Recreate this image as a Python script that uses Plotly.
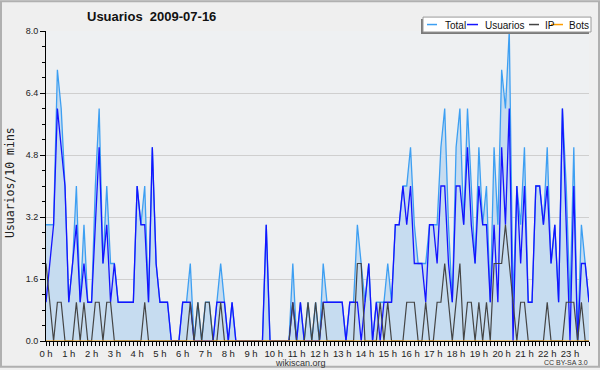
import plotly.graph_objects as go

# ---------------- data (10-minute slots, 0 h .. 23:50) ----------------
slots = list(range(144))

total = [3, 3, 3, 7, 6, 4, 1, 2, 4, 1, 3, 1, 1, 4, 6, 2, 4, 2, 2, 1,
         1, 1, 1, 1, 4, 3, 4, 1, 5, 2, 1, 1, 1, 0, 0, 0, 1, 1, 2, 0,
         1, 0, 1, 1, 0, 1, 2, 1, 0, 1, 0, 0, 0, 0, 0, 0, 0, 0, 3, 0,
         0, 0, 0, 0, 0, 2, 0, 1, 0, 1, 0, 1, 0, 2, 1, 1, 1, 1, 1, 0,
         1, 1, 3, 2, 1, 2, 0, 1, 1, 1, 2, 1, 3, 3, 4, 4, 5, 3, 2, 2,
         2, 3, 3, 3, 5, 6, 3, 1, 5, 6, 3, 6, 4, 2, 5, 3, 4, 1, 5, 3,
         7, 6, 8, 1, 4, 3, 5, 1, 1, 4, 4, 3, 5, 2, 3, 1, 6, 4, 1, 5,
         0, 3, 2, 1]

usuarios = [1, 2, 3, 6, 5, 4, 1, 2, 3, 1, 2, 1, 1, 3, 5, 2, 3, 1, 2, 1,
            1, 1, 1, 1, 4, 3, 3, 1, 5, 2, 1, 1, 1, 0, 0, 0, 1, 1, 1, 0,
            0, 0, 0, 0, 0, 1, 1, 1, 0, 1, 0, 0, 0, 0, 0, 0, 0, 0, 3, 0,
            0, 0, 0, 0, 0, 1, 0, 1, 0, 0, 0, 0, 0, 1, 1, 1, 1, 1, 1, 0,
            1, 1, 1, 0, 1, 2, 0, 1, 0, 1, 1, 1, 3, 3, 4, 3, 4, 2, 2, 2,
            1, 3, 3, 2, 4, 4, 2, 1, 4, 4, 3, 5, 3, 2, 4, 3, 3, 1, 3, 1,
            5, 3, 6, 0, 4, 2, 4, 1, 1, 4, 4, 3, 4, 2, 3, 1, 6, 3, 0, 4,
            0, 2, 2, 1]

ip = [2, 1, 0, 1, 1, 0, 0, 0, 1, 0, 1, 0, 0, 1, 1, 0, 1, 1, 0, 0,
      0, 0, 0, 0, 0, 0, 1, 0, 0, 0, 0, 0, 0, 0, 0, 0, 0, 0, 1, 0,
      1, 0, 1, 1, 0, 0, 1, 0, 0, 0, 0, 0, 0, 0, 0, 0, 0, 0, 0, 0,
      0, 0, 0, 0, 0, 1, 0, 0, 0, 1, 0, 1, 0, 1, 0, 0, 0, 0, 0, 0,
      0, 0, 2, 2, 0, 0, 0, 0, 1, 0, 1, 0, 0, 0, 0, 1, 1, 1, 0, 0,
      1, 0, 0, 1, 1, 2, 1, 0, 1, 2, 0, 1, 1, 0, 1, 0, 1, 0, 2, 2,
      2, 3, 2, 1, 0, 1, 1, 0, 0, 0, 0, 0, 1, 0, 0, 0, 0, 1, 1, 1,
      0, 1, 0, 0]

bots = [0] * 144

hour_ticks = [0, 6, 12, 18, 24, 30, 36, 42, 48, 54, 60, 66, 72, 78, 84, 90,
              96, 102, 108, 114, 120, 126, 132, 138]
hour_labels = ["0 h", "1 h", "2 h", "3 h", "4 h", "5 h", "6 h", "7 h", "8 h",
               "9 h", "10 h", "11 h", "12 h", "13 h", "14 h", "15 h", "16 h",
               "17 h", "18 h", "19 h", "20 h", "21 h", "22 h", "23 h"]

series_names = ["Total", "Usuarios", "IP", "Bots"]
series_colors = ["#3d9ff2", "#1414ff", "#444444", "#ff9d00"]

# ---------------- layout helpers ----------------
W, H = 600, 370
ML, MR, MT, MB = 46, 11, 31, 27
PW, PH = W - ML - MR, H - MT - MB


def px(x):
    return (x - ML) / PW


def py(y):
    return (H - MB - y) / PH


fig = go.Figure()
fig.add_trace(go.Scatter(x=slots, y=total, mode="lines", name="Total",
                         line=dict(color=series_colors[0], width=1.3),
                         fill="tozeroy", fillcolor="#c6dcf0", showlegend=False))
fig.add_trace(go.Scatter(x=slots, y=usuarios, mode="lines", name="Usuarios",
                         line=dict(color=series_colors[1], width=1.3), showlegend=False))
fig.add_trace(go.Scatter(x=slots, y=ip, mode="lines", name="IP",
                         line=dict(color=series_colors[2], width=1.2), showlegend=False))
fig.add_trace(go.Scatter(x=slots, y=bots, mode="lines", name="Bots",
                         line=dict(color=series_colors[3], width=1.2), showlegend=False))

fig.update_layout(
    width=W, height=H,
    margin=dict(l=ML, r=MR, t=MT, b=MB, pad=0),
    paper_bgcolor="#efefef",
    plot_bgcolor="#eef0f2",
    showlegend=False,
    font=dict(family="Liberation Sans", size=10, color="#222"),
)

fig.update_xaxes(
    range=[0, 143], tickmode="array", tickvals=hour_ticks, ticktext=hour_labels,
    ticks="outside", ticklen=4, tickwidth=1, tickcolor="#000",
    showline=True, linecolor="#000", linewidth=1, showgrid=False, zeroline=False,
    tickfont=dict(family="Liberation Sans", size=9.5, color="#222"),
    minor=dict(tickmode="linear", tick0=0, dtick=1, ticks="outside", ticklen=4,
               tickcolor="#000", showgrid=False),
)
fig.update_yaxes(
    range=[0, 8], tickmode="linear", tick0=0, dtick=1.6, tickformat=".1f",
    ticks="outside", ticklen=5, tickwidth=1, tickcolor="#000",
    showline=True, linecolor="#000", linewidth=1,
    showgrid=True, gridcolor="#cfcfcf", gridwidth=1, zeroline=False,
    tickfont=dict(family="Liberation Sans", size=9, color="#222"),
    minor=dict(tickmode="linear", tick0=0, dtick=0.4, ticks="outside", ticklen=3,
               tickcolor="#000", showgrid=False),
)

shapes = []
# outer frame
shapes.append(dict(type="rect", xref="paper", yref="paper",
                   x0=px(1), x1=px(599), y0=py(1), y1=py(369),
                   line=dict(color="#b0b0b0", width=2), fillcolor="rgba(0,0,0,0)", layer="above"))
# legend box with shadow
shapes.append(dict(type="rect", xref="paper", yref="paper",
                   x0=px(421), x1=px(589), y0=py(19), y1=py(34),
                   line=dict(width=0), fillcolor="#7a7a7a", layer="above"))
shapes.append(dict(type="rect", xref="paper", yref="paper",
                   x0=px(423), x1=px(591), y0=py(17), y1=py(32),
                   line=dict(color="#9a9a9a", width=1), fillcolor="#ffffff", layer="above"))

legend_lines = [(427, 437), (467, 478), (529, 539), (551, 563)]
legend_text_x = [443, 483, 543, 567]
annotations = []
for (a, b), tx, name, col in zip(legend_lines, legend_text_x, series_names, series_colors):
    shapes.append(dict(type="line", xref="paper", yref="paper",
                       x0=px(a), x1=px(b), y0=py(24.5), y1=py(24.5),
                       line=dict(color=col, width=1.5), layer="above"))
    annotations.append(dict(text=name, xref="paper", yref="paper", x=px(tx), y=py(25),
                            xanchor="left", yanchor="middle", showarrow=False,
                            font=dict(family="Liberation Sans", size=10, color="#111")))

annotations += [
    dict(text="<b>Usuarios\u00a0 2009-07-16</b>", xref="paper", yref="paper",
         x=px(151), y=py(16), xanchor="center", yanchor="middle", showarrow=False,
         font=dict(family="Liberation Sans", size=13, color="#111")),
    dict(text="Usuarios/10 mins", xref="paper", yref="paper", textangle=-90,
         x=px(10), y=py(184), xanchor="center", yanchor="middle", showarrow=False,
         font=dict(family="DejaVu Sans Mono", size=11.5, color="#222")),
    dict(text="wikiscan.org", xref="paper", yref="paper",
         x=px(300), y=py(365.5), xanchor="center", yanchor="middle", showarrow=False,
         font=dict(family="Liberation Sans", size=9, color="#333")),
    dict(text="CC BY-SA 3.0", xref="paper", yref="paper",
         x=px(590), y=py(365), xanchor="right", yanchor="middle", showarrow=False,
         font=dict(family="Liberation Sans", size=7, color="#333")),
]

fig.update_layout(shapes=shapes, annotations=annotations)
fig.write_html("out.html", config={"displayModeBar": False},
               post_script="document.body.style.margin='0';document.body.style.padding='0';")
